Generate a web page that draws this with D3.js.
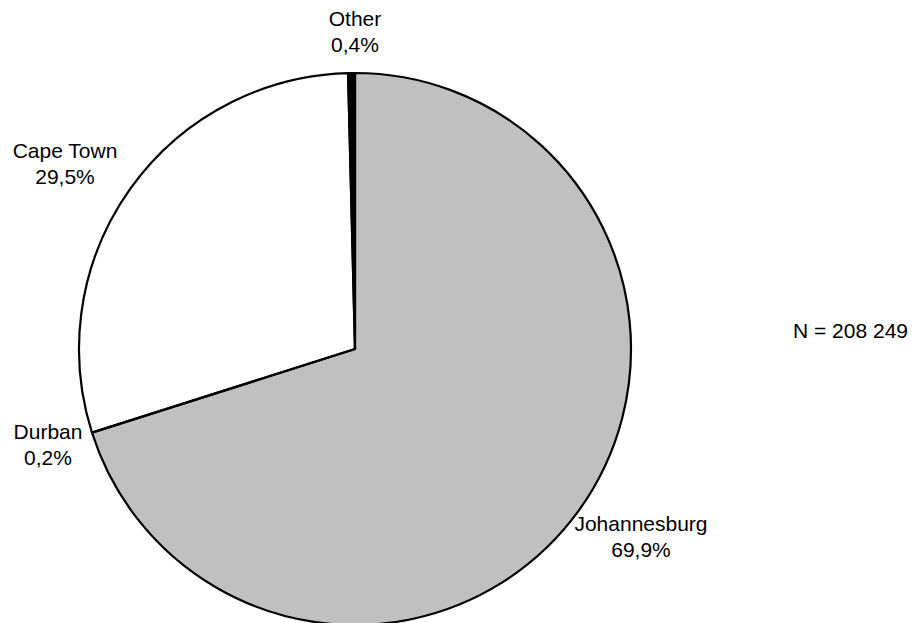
<!DOCTYPE html>
<html><head><meta charset="utf-8">
<script src="https://cdn.jsdelivr.net/npm/d3@7"></script>
<style>body{margin:0;background:#fff}svg{display:block}text{font-family:"Liberation Sans",Arial,sans-serif;font-size:21px;fill:#000}</style>
</head><body>
<svg id="c" width="917" height="623"></svg>
<script>
const categories = ["Johannesburg", "Durban", "Cape Town", "Other"];
const values = [69.9, 0.2, 29.5, 0.4];
const valueLabels = ["69,9%", "0,2%", "29,5%", "0,4%"];
const colors = ["#c0c0c0", "#c0c0c0", "#ffffff", "#000000"];
const labelPos = [[641, 531], [48, 439], [65, 158], [355, 26]];
const note = "N = 208 249";

const svg = d3.select("#c");
const cx = 355, cy = 349, r = 276;
const pie = d3.pie().sort(null).value(d => d.v).startAngle(0).endAngle(2*Math.PI);
const data = categories.map((c,i)=>({c, v: values[i], i}));
const arcs = pie(data);
const arc = d3.arc().innerRadius(0).outerRadius(r);
const g = svg.append("g").attr("transform", `translate(${cx},${cy})`);
// fills
g.selectAll("path.fill").data(arcs).join("path").attr("class","fill")
  .attr("d", arc)
  .attr("fill", d => colors[d.data.i])
  .attr("stroke", d => colors[d.data.i])
  .attr("stroke-width", 0.5);
// outlines: the tiny Durban slice is drawn as part of the Johannesburg outline
const outline = arcs.filter(a => a.data.c !== "Durban").map(a => {
  if (a.data.c === "Johannesburg") {
    const dur = arcs.find(b => b.data.c === "Durban");
    return {startAngle: a.startAngle, endAngle: dur.endAngle};
  }
  return {startAngle: a.startAngle, endAngle: a.endAngle};
});
g.selectAll("path.line").data(outline).join("path").attr("class","line")
  .attr("d", arc)
  .attr("fill", "none")
  .attr("stroke", "#000")
  .attr("stroke-width", 2.2)
  .attr("stroke-linejoin", "round");

const lg = svg.append("g");
data.forEach((d,i)=>{
  const t = lg.append("text").attr("text-anchor","middle");
  t.append("tspan").attr("x", labelPos[i][0]).attr("y", labelPos[i][1]).text(d.c);
  t.append("tspan").attr("x", labelPos[i][0]).attr("y", labelPos[i][1]+26).text(valueLabels[i]);
});
svg.append("text").attr("x", 793).attr("y", 338).text(note);
</script>
</body></html>
